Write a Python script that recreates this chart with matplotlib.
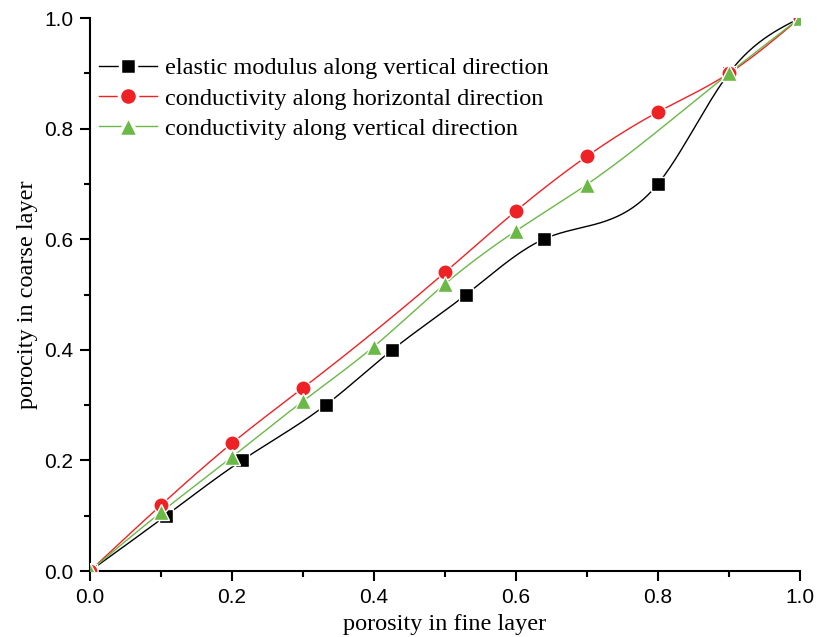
import matplotlib
matplotlib.use("Agg")
import matplotlib.pyplot as plt
import numpy as np
from matplotlib.ticker import MultipleLocator, FormatStrFormatter

# porosity in fine layer (x) vs porosity in coarse layer (y)
elastic_x = [0.0, 0.107, 0.214, 0.332, 0.426, 0.530, 0.639, 0.800, 0.900, 1.0]
elastic_y = [0.0, 0.1, 0.2, 0.3, 0.4, 0.5, 0.6, 0.7, 0.9, 1.0]

cond_h_x = [0.0, 0.1, 0.2, 0.3, 0.5, 0.6, 0.7, 0.8, 0.9, 1.0]
cond_h_y = [0.0, 0.119, 0.231, 0.331, 0.540, 0.651, 0.750, 0.830, 0.900, 1.0]

cond_v_x = [0.0, 0.1, 0.2, 0.3, 0.4, 0.5, 0.6, 0.7, 0.9, 1.0]
cond_v_y = [0.0, 0.106, 0.206, 0.307, 0.406, 0.519, 0.615, 0.699, 0.900, 1.0]


def natural_spline(x, y, n=400):
    """Natural cubic spline through (x, y), evaluated on a fine grid."""
    x = np.asarray(x, float)
    y = np.asarray(y, float)
    m = len(x)
    h = np.diff(x)
    A = np.zeros((m, m))
    b = np.zeros(m)
    A[0, 0] = A[-1, -1] = 1.0
    for i in range(1, m - 1):
        A[i, i - 1] = h[i - 1]
        A[i, i] = 2 * (h[i - 1] + h[i])
        A[i, i + 1] = h[i]
        b[i] = 6 * ((y[i + 1] - y[i]) / h[i] - (y[i] - y[i - 1]) / h[i - 1])
    M = np.linalg.solve(A, b)
    xs = np.linspace(x[0], x[-1], n)
    idx = np.clip(np.searchsorted(x, xs) - 1, 0, m - 2)
    x0, x1 = x[idx], x[idx + 1]
    hh = x1 - x0
    t0, t1 = x1 - xs, xs - x0
    ys = (M[idx] * t0**3 + M[idx + 1] * t1**3) / (6 * hh) \
        + (y[idx] / hh - M[idx] * hh / 6) * t0 \
        + (y[idx + 1] / hh - M[idx + 1] * hh / 6) * t1
    return xs, ys


series = [
    (elastic_x, elastic_y, "black", "s", 10, "elastic modulus along vertical direction"),
    (cond_h_x, cond_h_y, "#ee2224", "o", 11, "conductivity along horizontal direction"),
    (cond_v_x, cond_v_y, "#6ab845", "^", 12, "conductivity along vertical direction"),
]

fig = plt.figure(figsize=(8.17, 6.37), dpi=100)
ax = fig.add_axes([0.110, 0.1036, 0.869, 0.868])

handles = []
for xs, ys, col, mk, ms, lab in series:
    sx, sy = natural_spline(xs, ys)
    ax.plot(sx, sy, color=col, lw=1.0, zorder=2)
    ax.plot(xs, ys, ls="none", marker=mk, ms=ms, color=col,
            mec="white", mew=1.0, zorder=3)
    h, = ax.plot([], [], color=col, lw=1.0, marker=mk, ms=ms + 2, mec="white", mew=2.5)
    h.set_label(lab)
    handles.append(h)

ax.set_xlim(0, 1.0)
ax.set_ylim(0, 1.0)
ax.xaxis.set_major_locator(MultipleLocator(0.2))
ax.xaxis.set_minor_locator(MultipleLocator(0.1))
ax.yaxis.set_major_locator(MultipleLocator(0.2))
ax.yaxis.set_minor_locator(MultipleLocator(0.1))
ax.xaxis.set_major_formatter(FormatStrFormatter("%.1f"))
ax.yaxis.set_major_formatter(FormatStrFormatter("%.1f"))

for s in ("top", "right"):
    ax.spines[s].set_visible(False)
for s in ("left", "bottom"):
    ax.spines[s].set_linewidth(1.5)

ax.tick_params(which="major", direction="out", length=7, width=1.5,
               labelsize=15, pad=5, labelfontfamily="Liberation Sans")
ax.tick_params(which="minor", direction="out", length=4, width=1.5)

ax.set_xlabel("porosity in fine layer", family="Liberation Serif", fontsize=17.5, labelpad=5)
ax.set_ylabel("porocity in coarse layer", family="Liberation Serif", fontsize=17.5, labelpad=4)

ax.legend(handles=handles, loc="upper left", bbox_to_anchor=(-0.011, 0.96),
          frameon=False, prop={"family": "Liberation Serif", "size": 17.5},
          handlelength=2.4, handletextpad=0.3, labelspacing=0.34, borderaxespad=0.3)

fig.savefig("out.png", dpi=100)
